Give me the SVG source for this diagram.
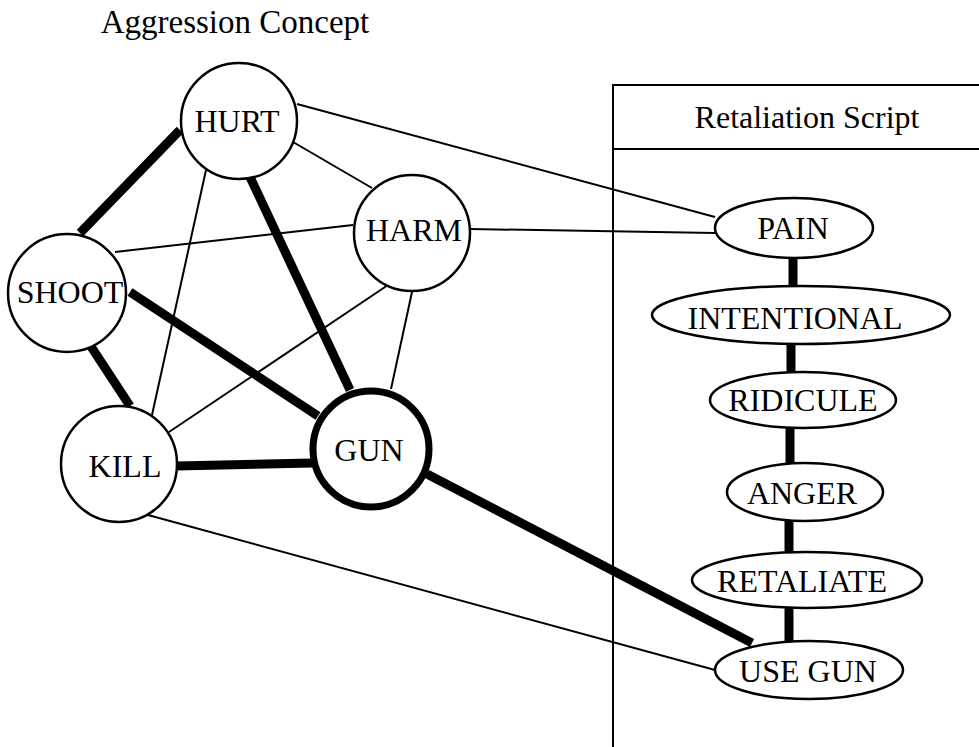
<svg xmlns="http://www.w3.org/2000/svg" width="979" height="747" viewBox="0 0 979 747">
<style>
text{font-family:"Liberation Serif","Times New Roman",serif;font-size:32px;fill:#000;text-anchor:middle}
.thin{stroke:#000;stroke-width:2;fill:none}
.thick{stroke:#000;stroke-width:9;fill:none}
.node{fill:#fff;stroke:#000;stroke-width:2.5}
.gun{fill:#fff;stroke:#000;stroke-width:7}
</style>
<rect width="979" height="747" fill="#fff"/>
<text x="235" y="33" style="font-size:33px">Aggression Concept</text>
<g id="script-box">
<path class="thin" d="M613,747 V85 H981 M613,149 H981"/>
<text x="807" y="128">Retaliation Script</text>
</g>
<g id="connectors">
<line class="thick" x1="180" y1="130" x2="80" y2="233"/>
<line class="thin" x1="293" y1="142" x2="372" y2="188"/>
<line class="thin" x1="297" y1="104" x2="715" y2="217"/>
<line class="thin" x1="206" y1="170" x2="152" y2="415"/>
<line class="thick" x1="250" y1="177" x2="350" y2="390"/>
<line class="thin" x1="115" y1="252" x2="353" y2="225"/>
<line class="thin" x1="470" y1="229" x2="715" y2="233"/>
<line class="thick" x1="130" y1="292" x2="318" y2="416"/>
<line class="thick" x1="90" y1="345" x2="130" y2="406"/>
<line class="thin" x1="388" y1="285" x2="169" y2="432"/>
<line class="thin" x1="412" y1="292" x2="391" y2="389"/>
<line class="thick" x1="176" y1="466" x2="312" y2="463"/>
<line class="thin" x1="148" y1="515" x2="715" y2="670"/>
<line class="thick" x1="427" y1="474" x2="752" y2="643"/>
<line class="thick" x1="793" y1="255" x2="793" y2="288"/>
<line class="thick" x1="791" y1="343" x2="791" y2="374"/>
<line class="thick" x1="790" y1="427" x2="790" y2="465"/>
<line class="thick" x1="789" y1="520" x2="789" y2="554"/>
<line class="thick" x1="789" y1="607" x2="789" y2="643"/>
</g>
<g id="HURT"><circle class="node" cx="239" cy="121" r="58"/><text x="237" y="132">HURT</text></g>
<g id="HARM"><circle class="node" cx="412" cy="233" r="58"/><text x="414" y="241">HARM</text></g>
<g id="SHOOT"><circle class="node" cx="67" cy="293" r="59"/><text x="70" y="303">SHOOT</text></g>
<g id="KILL"><circle class="node" cx="119" cy="464" r="58"/><text x="125" y="477">KILL</text></g>
<g id="GUN"><circle class="gun" cx="371" cy="449" r="58"/><text x="369" y="461">GUN</text></g>
<g id="PAIN"><ellipse class="node" cx="794" cy="228" rx="79" ry="30"/><text x="793" y="239">PAIN</text></g>
<g id="INTENTIONAL"><ellipse class="node" cx="801" cy="315" rx="149" ry="29"/><text x="795" y="329">INTENTIONAL</text></g>
<g id="RIDICULE"><ellipse class="node" cx="803" cy="400" rx="93" ry="28"/><text x="803" y="411">RIDICULE</text></g>
<g id="ANGER"><ellipse class="node" cx="805" cy="492" rx="78" ry="29"/><text x="802" y="504">ANGER</text></g>
<g id="RETALIATE"><ellipse class="node" cx="807" cy="580" rx="115" ry="28"/><text x="802" y="592">RETALIATE</text></g>
<g id="USEGUN"><ellipse class="node" cx="809" cy="670" rx="94" ry="29"/><text x="808" y="682">USE GUN</text></g>
</svg>
